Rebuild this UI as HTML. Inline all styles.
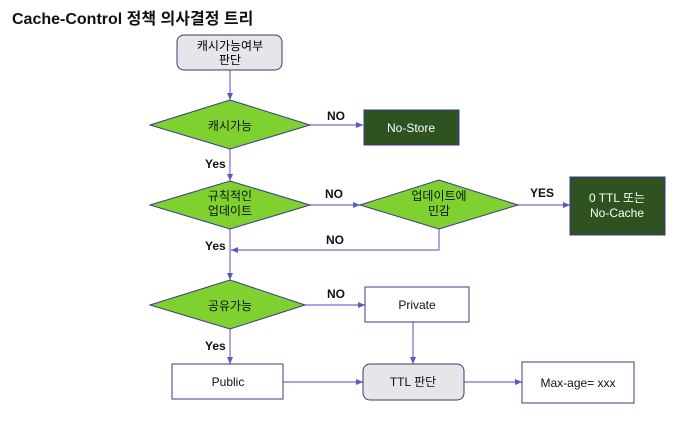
<!DOCTYPE html>
<html><head><meta charset="utf-8"><style>
body{margin:0;background:#fff;}
svg text{font-family:"Liberation Sans","Noto Sans CJK KR",sans-serif;}
</style></head><body>
<svg width="695" height="423" viewBox="0 0 695 423" xmlns="http://www.w3.org/2000/svg">
<defs><marker id="a" markerWidth="8" markerHeight="8" refX="7" refY="4" orient="auto" markerUnits="userSpaceOnUse"><path d="M0,1 L7,4 L0,7 z" fill="#5a5ab8"/></marker></defs>
<rect width="695" height="423" fill="#fff"/>
<text x="12" y="24" font-size="16" font-weight="bold" fill="#111">Cache-Control 정책 의사결정 트리</text>
<g stroke="#7070c8" stroke-width="1.2" fill="none">
<line x1="230" y1="70" x2="230" y2="100" marker-end="url(#a)"/>
<line x1="310" y1="125" x2="363" y2="125" marker-end="url(#a)"/>
<line x1="230" y1="149" x2="230" y2="181" marker-end="url(#a)"/>
<line x1="310" y1="205" x2="360" y2="205" marker-end="url(#a)"/>
<line x1="518" y1="205" x2="570" y2="205" marker-end="url(#a)"/>
<polyline points="439,229 439,250 231,250" marker-end="url(#a)"/>
<line x1="230" y1="229" x2="230" y2="280" marker-end="url(#a)"/>
<line x1="305" y1="305" x2="365" y2="305" marker-end="url(#a)"/>
<line x1="230" y1="329" x2="230" y2="364" marker-end="url(#a)"/>
<line x1="413" y1="322" x2="413" y2="364" marker-end="url(#a)"/>
<line x1="283" y1="382" x2="363" y2="382" marker-end="url(#a)"/>
<line x1="464" y1="382" x2="522" y2="382" marker-end="url(#a)"/>
</g>
<rect x="177" y="35" width="105" height="35" rx="7" fill="#e6e6ea" stroke="#3a3a6a"/>
<text x="230" y="50" font-size="12" text-anchor="middle">캐시가능여부</text>
<text x="230" y="64" font-size="12" text-anchor="middle">판단</text>
<g fill="#7ed12e" stroke="#3a3a8a" stroke-width="1">
<polygon points="150,125 230,100 310,125 230,149"/>
<polygon points="150,205 230,181 310,205 230,229"/>
<polygon points="360,205 439,180 518,205 439,229"/>
<polygon points="150,305 230,280 305,305 230,329"/>
</g>
<g font-size="12" text-anchor="middle" fill="#111">
<text x="230" y="130">캐시가능</text>
<text x="230" y="200">규칙적인</text><text x="230" y="215">업데이트</text>
<text x="439" y="200">업데이트에</text><text x="439" y="215">민감</text>
<text x="230" y="310">공유가능</text>
</g>
<g fill="#2e5220" stroke="#3a3a8a">
<rect x="364" y="110" width="95" height="35"/>
<rect x="570" y="177" width="95" height="58"/>
</g>
<g fill="#fff" font-size="12" text-anchor="middle">
<text x="411" y="132">No-Store</text>
<text x="617" y="202">0 TTL 또는</text><text x="617" y="217">No-Cache</text>
</g>
<g fill="#fff" stroke="#3a3a8a">
<rect x="365" y="287" width="104" height="35"/>
<rect x="172" y="364" width="111" height="35"/>
<rect x="522" y="362" width="112" height="41"/>
</g>
<rect x="363" y="364" width="101" height="36" rx="7" fill="#e6e6ea" stroke="#3a3a6a"/>
<g font-size="12" text-anchor="middle" fill="#111">
<text x="417" y="309">Private</text>
<text x="228" y="386">Public</text>
<text x="413" y="386">TTL 판단</text>
<text x="578" y="387">Max-age= xxx</text>
</g>
<g font-size="12" font-weight="bold" fill="#111">
<text x="327" y="120">NO</text>
<text x="205" y="168">Yes</text>
<text x="325" y="198">NO</text>
<text x="530" y="197">YES</text>
<text x="326" y="244">NO</text>
<text x="205" y="250">Yes</text>
<text x="327" y="298">NO</text>
<text x="205" y="350">Yes</text>
</g>
</svg>
</body></html>
